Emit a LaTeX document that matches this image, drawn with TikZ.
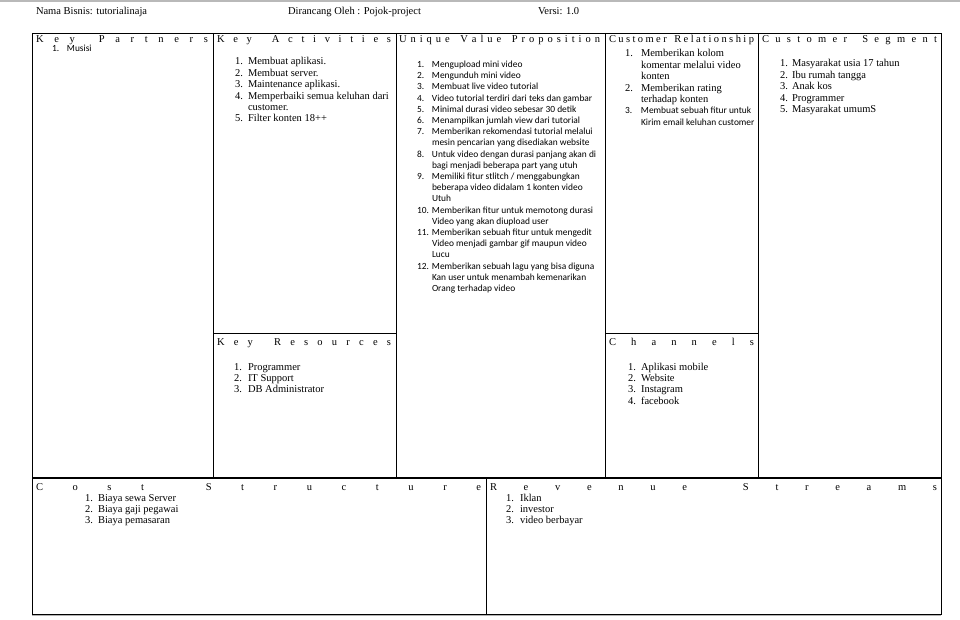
\documentclass[tikz,border=0pt]{standalone}
\usepackage{fontspec}
\setmainfont{Liberation Serif}
\newfontfamily\calfont{Carlito}
\newcommand\g{\hfill}
\newcommand\tms{\fontsize{10.5}{11.4}\selectfont}
\newcommand\clb{\calfont\fontsize{9.4}{11.2}\selectfont}
\begin{document}
\begin{tikzpicture}[x=1pt,y=-1pt,
  txt/.style={anchor=base west, inner sep=0pt, outer sep=0pt},
  ttl/.style={txt, font=\tms},
  grid/.style={line width=0.8pt, black}]
\useasboundingbox (0,0) rectangle (960,620);
\fill[white] (0,0) rectangle (960,620);
\fill[gray!55] (0,0) rectangle (960,2.5);
% header
\node[txt, font=\tms] (hnama) at (36,15) {Nama Bisnis: tutorialinaja};
\node[txt, font=\tms] (holeh) at (288,15) {Dirancang Oleh : Pojok-project};
\node[txt, font=\tms] (hver) at (538,15) {Versi: 1.0};
% grid
\draw[grid] (32,33) rectangle (941,614);
\draw[grid] (213,33) -- (213,478);
\draw[grid] (396,33) -- (396,478);
\draw[grid] (605,33) -- (605,478);
\draw[grid] (758,33) -- (758,478);
\draw[grid] (213,333) -- (396,333);
\draw[grid] (605,333) -- (758,333);
\draw[line width=1.1pt] (32,478) -- (941,478);
\draw[grid] (486,478) -- (486,614);
\draw[gray!60, line width=1.5pt] (32,615.5) -- (941,615.5);
% titles
\node[ttl] (tkp) at (36,43) {\makebox[172pt][s]{K\g e\g y\g\ \g P\g a\g r\g t\g n\g e\g r\g s}};
\node[ttl] (tka) at (217,43) {\makebox[174pt][s]{K\g e\g y\g\ \g A\g c\g t\g i\g v\g i\g t\g i\g e\g s}};
\node[ttl] (tuvp) at (399,43) {\makebox[201pt][s]{U\g n\g i\g q\g u\g e\g\ \g V\g a\g l\g u\g e\g\ \g P\g r\g o\g p\g o\g s\g i\g t\g i\g o\g n}};
\node[ttl] (tcr) at (609,43) {\makebox[145pt][s]{C\g u\g s\g t\g o\g m\g e\g r\g\ \g R\g e\g l\g a\g t\g i\g o\g n\g s\g h\g i\g p}};
\node[ttl] (tcs) at (762,43) {\makebox[175pt][s]{C\g u\g s\g t\g o\g m\g e\g r\g\ \g S\g e\g g\g m\g e\g n\g t}};
\node[ttl] (tkr) at (217,345) {\makebox[174pt][s]{K\g e\g y\g\ \g R\g e\g s\g o\g u\g r\g c\g e\g s}};
\node[ttl] (tch) at (609,345) {\makebox[145pt][s]{C\g h\g a\g n\g n\g e\g l\g s}};
\node[ttl] (tcost) at (36,490) {\makebox[445pt][s]{C\g o\g s\g t\g\ \g S\g t\g r\g u\g c\g t\g u\g r\g e}};
\node[ttl] (trev) at (490,490) {\makebox[447pt][s]{R\g e\g v\g e\g n\g u\g e\g\ \g S\g t\g r\g e\g a\g m\g s}};
% lists
\node[txt, font=\clb] (lkp) at (52,52) {\begin{tabular}[t]{@{}p{15pt}@{}l@{}}1. & Musisi\end{tabular}};
\node[txt, font=\tms] (lka) at (235,65) {\begin{tabular}[t]{@{}p{13pt}@{}l@{}}
1. & Membuat aplikasi.\\
2. & Membuat server.\\
3. & Maintenance aplikasi.\\
4. & Memperbaiki semua keluhan dari\\
   & customer.\\
5. & Filter konten 18++\end{tabular}};
\node[txt, font=\clb] (luvp) at (417,67.5) {\begin{tabular}[t]{@{}p{15pt}@{}l@{}}
1. & Mengupload mini video\\
2. & Mengunduh mini video\\
3. & Membuat live video tutorial\\
4. & Video tutorial terdiri dari teks dan gambar\\
5. & Minimal durasi video sebesar 30 detik\\
6. & Menampilkan jumlah view dari tutorial\\
7. & Memberikan rekomendasi tutorial melalui\\
   & mesin pencarian yang disediakan website\\
8. & Untuk video dengan durasi panjang akan di\\
   & bagi menjadi beberapa part yang utuh\\
9. & Memiliki fitur stlitch / menggabungkan\\
   & beberapa video didalam 1 konten video\\
   & Utuh\\
10. & Memberikan fitur untuk memotong durasi\\
   & Video yang akan diupload user\\
11. & Memberikan sebuah fitur untuk mengedit\\
   & Video menjadi gambar gif maupun video\\
   & Lucu\\
12. & Memberikan sebuah lagu yang bisa diguna\\
   & Kan user untuk menambah kemenarikan\\
   & Orang terhadap video\end{tabular}};
\node[txt, font=\tms] (lcr) at (625,57) {\begin{tabular}[t]{@{}p{16pt}@{}l@{}}
1. & Memberikan kolom\\
   & komentar melalui video\\
   & konten\\
2. & Memberikan rating\\
   & terhadap konten\\
\clb 3. & \clb Membuat sebuah fitur untuk\\
   & \clb Kirim email keluhan customer\end{tabular}};
\node[txt, font=\tms] (lcs) at (780,67) {\begin{tabular}[t]{@{}p{12pt}@{}l@{}}
1. & Masyarakat usia 17 tahun\\
2. & Ibu rumah tangga\\
3. & Anak kos\\
4. & Programmer\\
5. & Masyarakat umumS\end{tabular}};
\node[txt, font=\tms] (lkr) at (234,370) {\begin{tabular}[t]{@{}p{14pt}@{}l@{}}
1. & Programmer\\
2. & IT Support\\
3. & DB Administrator\end{tabular}};
\node[txt, font=\tms] (lch) at (628,370) {\begin{tabular}[t]{@{}p{13pt}@{}l@{}}
1. & Aplikasi mobile\\
2. & Website\\
3. & Instagram\\
4. & facebook\end{tabular}};
\node[txt, font=\tms] (lcost) at (85,501) {\begin{tabular}[t]{@{}p{13pt}@{}l@{}}
1. & Biaya sewa Server\\
2. & Biaya gaji pegawai\\
3. & Biaya pemasaran\end{tabular}};
\node[txt, font=\tms] (lrev) at (506,501) {\begin{tabular}[t]{@{}p{14pt}@{}l@{}}
1. & Iklan\\
2. & investor\\
3. & video berbayar\end{tabular}};
\end{tikzpicture}
\end{document}
